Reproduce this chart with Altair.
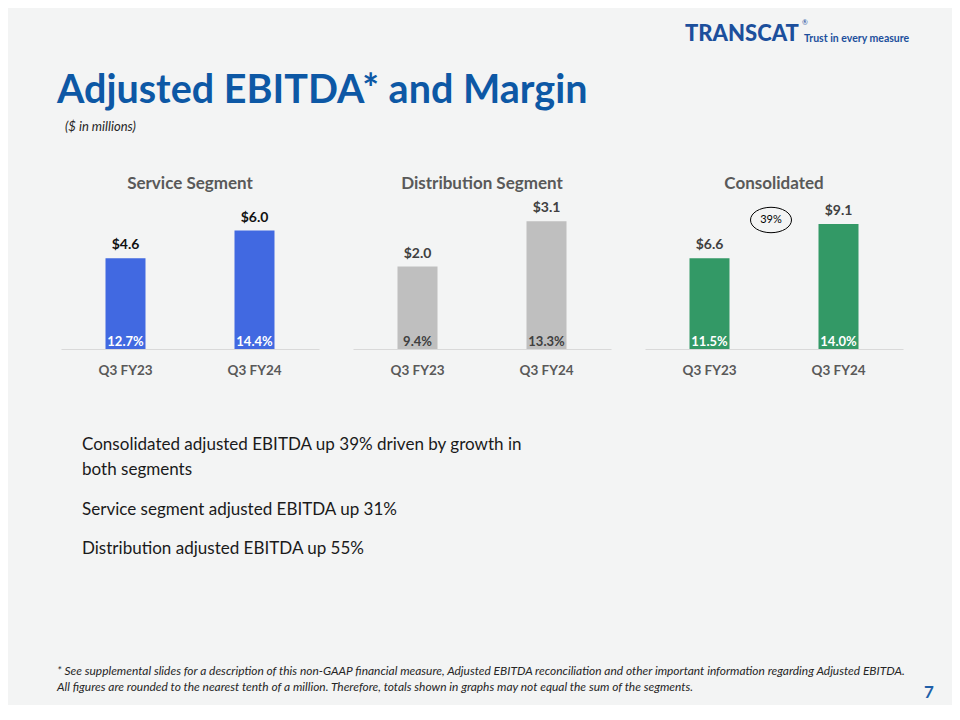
import altair as alt
import pandas as pd

# ---------------- data ----------------
periods = ["Q3 FY23", "Q3 FY24"]
service_ebitda = [4.6, 6.0]
service_margin = [12.7, 14.4]
distribution_ebitda = [2.0, 3.1]
distribution_margin = [9.4, 13.3]
consolidated_ebitda = [6.6, 9.1]
consolidated_margin = [11.5, 14.0]
growth_label = ["39%"]
panel_titles = ["Service Segment", "Distribution Segment", "Consolidated"]
title_text = ["Adjusted EBITDA* and Margin"]
subtitle_text = ["($ in millions)"]
bullets = [
    "Consolidated adjusted EBITDA up 39% driven by growth in",
    "both segments",
    "Service segment adjusted EBITDA up 31%",
    "Distribution adjusted EBITDA up 55%",
]
footnotes = [
    "* See supplemental slides for a description of this non-GAAP financial measure, Adjusted EBITDA reconciliation and other important information regarding Adjusted EBITDA.",
    "All figures are rounded to the nearest tenth of a million. Therefore, totals shown in graphs may not equal the sum of the segments.",
]
page_number = ["7"]
logo_word = ["TRANSCAT"]
logo_reg = ["®"]
logo_tagline = ["Trust in every measure"]

FONT = "Lato"
BG = "#f3f4f4"
BLUE = "#0d58a5"
LOGO_BLUE = "#1c4f9c"


def txt(s, x, y, **style):
    return (
        alt.Chart(pd.DataFrame({"t": s}))
        .mark_text(align=style.pop("align", "left"), baseline="alphabetic", **style)
        .encode(x=alt.value(x), y=alt.value(y), text="t:N")
    )


# ---------------- header ----------------
header = alt.layer(
    txt(logo_word, 677, 33, font=FONT, fontSize=22, fontWeight=900, color=LOGO_BLUE),
    txt(logo_reg, 794, 17, font=FONT, fontSize=7, color=LOGO_BLUE),
    txt(logo_tagline, 796, 34, font=FONT, fontSize=10.5, fontWeight="bold", color=LOGO_BLUE),
    txt(title_text, 49, 95, font=FONT, fontSize=39.5, fontWeight="bold", color=BLUE),
    txt(subtitle_text, 57, 123, font=FONT, fontSize=13, fontStyle="italic", color="#262626"),
).properties(width=944, height=167)


# ---------------- panels ----------------
def panel(title, values, margins, bar_color, value_color, margin_color, ymax, growth=False):
    df = pd.DataFrame({"period": periods, "value": values, "margin": margins})
    df["value_label"] = ["$" + f"{v:.1f}" for v in values]
    df["margin_label"] = [f"{m:.1f}%" for m in margins]
    x = alt.X(
        "period:N",
        sort=periods,
        scale=alt.Scale(paddingInner=0.69, paddingOuter=0.345),
        axis=alt.Axis(
            title=None, labelAngle=0, labelFont=FONT, labelFontSize=13.5,
            labelFontWeight="bold", labelColor="#595959", labelPadding=14,
            ticks=False, tickSize=0, domainColor="#d9d9d9", domainWidth=1, grid=False,
        ),
    )
    y_scale = alt.Scale(domain=[0, ymax], nice=False, zero=True)
    y = alt.Y("value:Q", scale=y_scale, axis=None)
    base = alt.Chart(df)
    bars = base.mark_bar(color=bar_color).encode(x=x, y=y)
    vlab = base.mark_text(
        baseline="alphabetic", dy=-9, font=FONT, fontSize=14, fontWeight="bold", color=value_color
    ).encode(x=x, y=y, text="value_label:N")
    mlab = base.mark_text(
        baseline="alphabetic", dy=-3, font=FONT, fontSize=13, fontWeight="bold", color=margin_color
    ).encode(x=x, y=alt.datum(0), text="margin_label:N")
    layers = [bars, vlab, mlab]
    if growth:
        gdf = pd.DataFrame({"label": growth_label})
        ell = alt.Chart(gdf).mark_point(
            shape="M-1,0A1,0.62,0,1,1,1,0A1,0.62,0,1,1,-1,0Z",
            size=1681, filled=False, stroke="#000000", strokeWidth=1, opacity=1,
        ).encode(x=alt.value(126), y=alt.value(21))
        gt = alt.Chart(gdf).mark_text(
            font=FONT, fontSize=11, color="#000000", baseline="middle"
        ).encode(x=alt.value(126), y=alt.value(21), text="label:N")
        layers += [ell, gt]
    return alt.layer(*layers).properties(
        width=258,
        height=150,
        title=alt.TitleParams(
            title, font=FONT, fontSize=17, fontWeight="bold", color="#595959",
            offset=6, anchor="middle",
        ),
    )


p1 = panel(panel_titles[0], service_ebitda, service_margin, "#4169e1", "#111111", "#ffffff", 7.6)
p2 = panel(panel_titles[1], distribution_ebitda, distribution_margin, "#bfbfbf", "#404040", "#404040", 3.64)
p3 = panel(panel_titles[2], consolidated_ebitda, consolidated_margin, "#339966", "#404040", "#ffffff", 10.92, growth=True)

spacer = alt.Chart(pd.DataFrame({"t": [""]})).mark_text().encode(
    x=alt.value(0), y=alt.value(0), text="t:N"
).properties(width=19, height=150)

row = alt.hconcat(spacer, p1, p2, p3, spacing=34)

# ---------------- bottom ----------------
bottom = alt.layer(
    txt([bullets[0]], 74, 73, font=FONT, fontSize=17.05, color="#1a1a1a"),
    txt([bullets[1]], 74, 98, font=FONT, fontSize=17.05, color="#1a1a1a"),
    txt([bullets[2]], 74, 138, font=FONT, fontSize=17.05, color="#1a1a1a"),
    txt([bullets[3]], 74, 177, font=FONT, fontSize=17.05, color="#1a1a1a"),
    txt([footnotes[0]], 49, 298, font=FONT, fontSize=11.95, fontStyle="italic", color="#262626"),
    txt([footnotes[1]], 49, 314, font=FONT, fontSize=11.95, fontStyle="italic", color="#262626"),
    txt(page_number, 916, 321, font=FONT, fontSize=17, fontWeight="bold", color="#1f5fa8"),
).properties(width=944, height=328)

chart = (
    alt.vconcat(header, row, bottom, spacing=0)
    .properties(background=BG, padding=0)
    .configure_view(stroke=None)
)

chart.save("out.html", embed_options={"renderer": "svg", "actions": False})
